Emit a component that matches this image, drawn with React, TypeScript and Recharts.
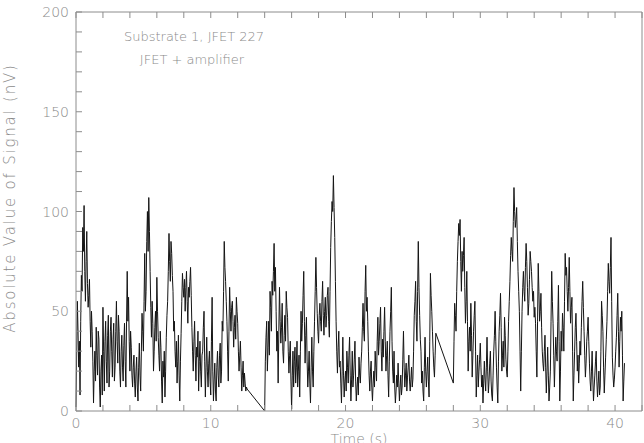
import { LineChart, Line, XAxis, YAxis } from 'recharts';

// signal sampled every 0.05 s; three recording stretches with gaps between them
const sampleStep = 0.05;
const segmentStarts = [0, 14, 28];

const segmentA = [
  2, 30, 55, 40, 22, 35, 8, 45, 68, 60, 92, 80, 103, 70, 55, 75, 90, 64, 52, 58,
  66, 45, 32, 50, 40, 25, 4, 20, 30, 15, 42, 28, 18, 40, 36, 12, 2, 20, 28, 8,
  52, 30, 10, 35, 45, 25, 14, 38, 48, 12, 20, 40, 47, 30, 17, 36, 44, 15, 22, 40,
  55, 35, 24, 48, 40, 20, 12, 30, 38, 22, 15, 33, 44, 25, 12, 45, 70, 45, 57, 35,
  20, 40, 32, 18, 12, 22, 28, 14, 7, 20, 27, 12, 5, 22, 34, 18, 10, 30, 49, 40,
  30, 55, 79, 50, 60, 85, 100, 80, 107, 90, 70, 52, 37, 55, 44, 20, 30, 42, 50, 35,
  67, 50, 37, 28, 20, 40, 32, 15, 4, 25, 17, 30, 7, 20, 37, 48, 55, 70, 89, 75,
  65, 85, 79, 68, 60, 40, 45, 30, 22, 35, 14, 25, 38, 18, 5, 25, 39, 55, 69, 62,
  57, 66, 50, 62, 70, 55, 44, 62, 57, 65, 72, 58, 42, 30, 20, 35, 45, 28, 15, 32,
  27, 40, 10, 25, 35, 20, 12, 28, 30, 42, 50, 25, 7, 22, 37, 20, 12, 24, 30, 15,
  8, 35, 57, 20, 5, 16, 24, 10, 5, 22, 30, 18, 12, 28, 34, 14, 20, 45, 40, 60,
  85, 72, 65, 55, 45, 30, 15, 40, 62, 50, 40, 52, 55, 45, 32, 42, 48, 36, 57, 50,
  44, 30, 20, 28, 35, 22, 10, 18, 25, 12, 19, 14, 10, 12, 11,
];

const segmentB = [
  0, 25, 37, 45, 20, 32, 45, 28, 60, 52, 40, 65, 58, 70, 84, 60, 72, 50, 30, 40,
  14, 40, 62, 45, 34, 42, 54, 30, 24, 38, 48, 35, 60, 52, 47, 30, 19, 28, 35, 15,
  1, 18, 30, 12, 25, 32, 14, 22, 35, 12, 20, 28, 7, 30, 50, 35, 44, 58, 70, 45,
  24, 38, 47, 25, 12, 20, 30, 14, 4, 22, 37, 20, 12, 30, 45, 60, 77, 62, 49, 40,
  34, 48, 54, 45, 40, 55, 65, 48, 38, 50, 57, 42, 48, 58, 62, 45, 37, 60, 82, 95,
  105, 100, 118, 102, 87, 65, 45, 30, 19, 32, 40, 22, 25, 14, 4, 20, 37, 18, 7, 15,
  20, 10, 30, 22, 14, 28, 37, 18, 5, 16, 30, 12, 18, 26, 35, 15, 5, 12, 17, 8,
  27, 18, 14, 24, 30, 42, 54, 40, 35, 60, 73, 50, 57, 45, 30, 18, 10, 20, 25, 12,
  5, 14, 20, 12, 30, 22, 15, 35, 47, 28, 35, 44, 52, 30, 20, 36, 27, 40, 52, 35,
  20, 28, 35, 18, 7, 25, 40, 50, 62, 35, 20, 14, 30, 12, 4, 10, 18, 12, 24, 14,
  5, 12, 18, 8, 12, 26, 40, 22, 12, 18, 24, 10, 17, 22, 28, 15, 10, 16, 22, 12,
  16, 30, 48, 55, 65, 45, 35, 60, 85, 62, 48, 36, 30, 14, 20, 10, 5, 22, 37, 20,
  12, 20, 27, 15, 7, 35, 69, 58, 50, 40, 30, 22, 17, 28, 39,
];

const segmentC = [
  14, 35, 54, 48, 40, 60, 75, 85, 94, 88, 96, 75, 60, 80, 70, 78, 87, 62, 44, 55,
  70, 45, 20, 35, 42, 30, 54, 38, 17, 28, 40, 48, 55, 30, 7, 18, 28, 12, 20, 26,
  34, 22, 12, 18, 4, 14, 25, 16, 10, 22, 37, 20, 9, 15, 24, 30, 15, 8, 5, 18,
  30, 38, 50, 35, 22, 12, 4, 25, 40, 48, 59, 42, 20, 28, 35, 22, 47, 38, 26, 20,
  17, 30, 45, 55, 65, 78, 87, 80, 75, 95, 112, 100, 92, 96, 102, 85, 70, 60, 50, 30,
  10, 30, 50, 62, 70, 60, 55, 72, 84, 75, 62, 48, 54, 66, 80, 75, 70, 62, 55, 60,
  47, 52, 44, 30, 17, 45, 74, 60, 45, 50, 59, 42, 30, 24, 20, 30, 38, 22, 9, 20,
  32, 18, 5, 12, 20, 45, 70, 55, 44, 28, 12, 25, 37, 30, 25, 45, 63, 35, 5, 20,
  40, 30, 49, 42, 30, 55, 79, 68, 72, 60, 50, 62, 77, 60, 44, 52, 57, 30, 5, 18,
  30, 42, 49, 35, 20, 28, 14, 24, 35, 28, 42, 55, 65, 52, 40, 28, 17, 24, 35, 40,
  47, 35, 24, 15, 10, 20, 30, 16, 5, 12, 18, 25, 30, 15, 7, 14, 20, 8, 12, 30,
  55, 48, 40, 22, 9, 18, 27, 36, 45, 60, 74, 65, 59, 72, 87, 55, 27, 18, 12, 16,
  22, 30, 37, 48, 59, 40, 22, 35, 47, 40, 50, 28, 5, 15, 24,
];

const xTicks = [0, 2, 4, 6, 8, 10, 12, 14, 16, 18, 20, 22, 24, 26, 28, 30, 32, 34, 36, 38, 40, 42];
const xLabelTicks = [0, 10, 20, 30, 40];
const yTicks = [0, 10, 20, 30, 40, 50, 60, 70, 80, 90, 100, 110, 120, 130, 140, 150, 160, 170, 180, 190, 200];
const yLabelTicks = [0, 50, 100, 150, 200];

const xTitle = 'Time (s)';
const yTitle = 'Absolute Value of Signal (nV)';
const notes = ['Substrate 1, JFET 227', 'JFET + amplifier'];

const data = [segmentA, segmentB, segmentC].flatMap((values, s) =>
  values.map((v, i) => ({ t: +(segmentStarts[s] + i * sampleStep).toFixed(2), v }))
);

const AXIS = '#8c8c8c';
const TEXT = '#8a8a8a';
const FONT = '"DejaVu Sans", sans-serif';
const TICK_LEN = 6;

function BottomTick({ x, y, payload }: any) {
  return (
    <g>
      <line x1={x} y1={y} x2={x} y2={y - TICK_LEN} stroke={AXIS} />
      {xLabelTicks.includes(payload.value) && (
        <text x={x} y={y + 17} textAnchor="middle" fill={TEXT} fontSize={14} fontFamily={FONT} fontWeight={200}>
          {payload.value}
        </text>
      )}
    </g>
  );
}

function TopTick({ x, y }: any) {
  return <line x1={x} y1={y} x2={x} y2={y + TICK_LEN} stroke={AXIS} />;
}

function LeftTick({ x, y, payload }: any) {
  return (
    <g>
      <line x1={x} y1={y} x2={x + TICK_LEN} y2={y} stroke={AXIS} />
      {yLabelTicks.includes(payload.value) && (
        <text x={x - 7} y={y + 5} textAnchor="end" fill={TEXT} fontSize={14} fontFamily={FONT} fontWeight={200}>
          {payload.value}
        </text>
      )}
    </g>
  );
}

function RightTick({ x, y }: any) {
  return <line x1={x} y1={y} x2={x - TICK_LEN} y2={y} stroke={AXIS} />;
}

export default function App() {
  return (
    <div style={{ position: 'absolute', left: 0, top: 0, width: 644, height: 443, overflow: 'hidden', background: '#fff' }}>
      <LineChart width={644} height={443} data={data} margin={{ top: 11, right: 1, left: 0, bottom: 0 }}>
        <XAxis
          dataKey="t"
          type="number"
          domain={[0, 42]}
          ticks={xTicks}
          interval={0}
          height={32}
          tickSize={0}
          tickMargin={0}
          tick={<BottomTick />}
          axisLine={{ stroke: AXIS }}
        />
        <XAxis
          xAxisId="top"
          dataKey="t"
          orientation="top"
          type="number"
          domain={[0, 42]}
          ticks={xTicks}
          interval={0}
          height={1}
          tickSize={0}
          tickMargin={0}
          tick={<TopTick />}
          axisLine={{ stroke: AXIS }}
        />
        <YAxis
          type="number"
          domain={[0, 200]}
          ticks={yTicks}
          interval={0}
          width={76}
          tickSize={0}
          tickMargin={0}
          tick={<LeftTick />}
          axisLine={{ stroke: AXIS }}
        />
        <YAxis
          yAxisId="right"
          orientation="right"
          type="number"
          domain={[0, 200]}
          ticks={yTicks}
          interval={0}
          width={1}
          tickSize={0}
          tickMargin={0}
          tick={<RightTick />}
          axisLine={{ stroke: AXIS }}
        />
        <Line
          type="linear"
          dataKey="v"
          stroke="#151515"
          strokeWidth={1}
          dot={false}
          isAnimationActive={false}
        />
      </LineChart>
      <svg width={644} height={443} style={{ position: 'absolute', left: 0, top: 0, pointerEvents: 'none' }}>
        <text x={359} y={444} textAnchor="middle" fill={TEXT} fontSize={14} fontFamily={FONT} fontWeight={200}>
          {xTitle}
        </text>
        <text
          transform="translate(15, 198) rotate(-90)"
          textAnchor="middle"
          fill={TEXT}
          fontSize={15}
          fontFamily={FONT}
          fontWeight={200}
          letterSpacing={1.8}
        >
          {yTitle}
        </text>
        <text x={194} y={41} textAnchor="middle" fill={TEXT} fontSize={13} fontFamily={FONT} fontWeight={200}>
          {notes[0]}
        </text>
        <text x={192} y={64} textAnchor="middle" fill={TEXT} fontSize={13} fontFamily={FONT} fontWeight={200}>
          {notes[1]}
        </text>
      </svg>
    </div>
  );
}
